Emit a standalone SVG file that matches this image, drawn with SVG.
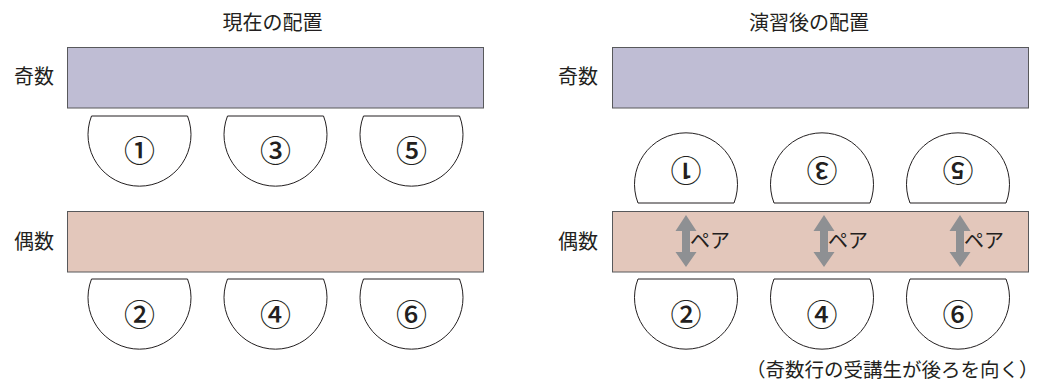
<svg xmlns="http://www.w3.org/2000/svg" width="1039" height="381" viewBox="0 0 1039 381">
  <style>
    text { font-family: "Noto Sans CJK JP", "Noto Sans", sans-serif; fill: #231f20; }
    .lbl { font-size: 20px; }
    .title { font-size: 20px; text-anchor: middle; }
    .num { font-size: 31px; font-weight: 500; text-anchor: middle; dominant-baseline: central; }
    .pair { font-size: 20px; }
    .note { font-size: 19.5px; }
    .odd { fill: #bfbdd4; stroke: #58595b; stroke-width: 1; }
    .even { fill: #e3c7bb; stroke: #58595b; stroke-width: 1; }
    .seat { fill: #ffffff; stroke: #231f20; stroke-width: 1; }
    .arrow { fill: #8e9093; }
  </style>
  <defs>
    <path id="seatShape" class="seat" d="M-48,0 H48 A51.5,51.5 0 1 1 -48,0 Z"/>
    <polygon id="dblArrow" class="arrow" points="0,0 10.5,16 4,16 4,37 10.5,37 0,52 -10.5,37 -4,37 -4,16 -10.5,16"/>
  </defs>

  <!-- Left panel -->
  <text class="title" x="272.5" y="30">現在の配置</text>
  <text class="lbl" x="14" y="84">奇数</text>
  <text class="lbl" x="14" y="249">偶数</text>
  <g id="left-odd-desk"><rect class="odd" x="67.5" y="47.5" width="416" height="60.5"/></g>
  <g id="left-even-desk"><rect class="even" x="67.5" y="211.5" width="416" height="60.5"/></g>

  <g id="left-seat-1" transform="translate(139.5,116)"><use href="#seatShape"/><text class="num" x="0" y="32">①</text></g>
  <g id="left-seat-3" transform="translate(275.5,116)"><use href="#seatShape"/><text class="num" x="0" y="32">③</text></g>
  <g id="left-seat-5" transform="translate(411.5,116)"><use href="#seatShape"/><text class="num" x="0" y="32">⑤</text></g>
  <g id="left-seat-2" transform="translate(139.5,279)"><use href="#seatShape"/><text class="num" x="0" y="33">②</text></g>
  <g id="left-seat-4" transform="translate(275.5,279)"><use href="#seatShape"/><text class="num" x="0" y="33">④</text></g>
  <g id="left-seat-6" transform="translate(411.5,279)"><use href="#seatShape"/><text class="num" x="0" y="33">⑥</text></g>

  <!-- Right panel -->
  <text class="title" x="809" y="30">演習後の配置</text>
  <text class="lbl" x="558" y="84">奇数</text>
  <text class="lbl" x="558" y="249">偶数</text>
  <g id="right-odd-desk"><rect class="odd" x="612.5" y="47.5" width="416" height="60.5"/></g>
  <g id="right-even-desk"><rect class="even" x="612.5" y="211.5" width="416" height="60.5"/></g>

  <g id="right-seat-1" transform="translate(686,133) rotate(180,0,35)"><use href="#seatShape"/><text class="num" x="0" y="31">①</text></g>
  <g id="right-seat-3" transform="translate(822,133) rotate(180,0,35)"><use href="#seatShape"/><text class="num" x="0" y="31">③</text></g>
  <g id="right-seat-5" transform="translate(958,133) rotate(180,0,35)"><use href="#seatShape"/><text class="num" x="0" y="31">⑤</text></g>
  <g id="right-seat-2" transform="translate(686,279)"><use href="#seatShape"/><text class="num" x="0" y="33">②</text></g>
  <g id="right-seat-4" transform="translate(822,279)"><use href="#seatShape"/><text class="num" x="0" y="33">④</text></g>
  <g id="right-seat-6" transform="translate(958,279)"><use href="#seatShape"/><text class="num" x="0" y="33">⑥</text></g>

  <g id="connectors">
    <use href="#dblArrow" transform="translate(686,215)"/>
    <use href="#dblArrow" transform="translate(824,215)"/>
    <use href="#dblArrow" transform="translate(960,215)"/>
    <text class="pair" x="690" y="248">ペア</text>
    <text class="pair" x="828" y="248">ペア</text>
    <text class="pair" x="964" y="248">ペア</text>
  </g>

  <text class="note" x="746" y="377">（奇数行の受講生が後ろを向く）</text>
</svg>
